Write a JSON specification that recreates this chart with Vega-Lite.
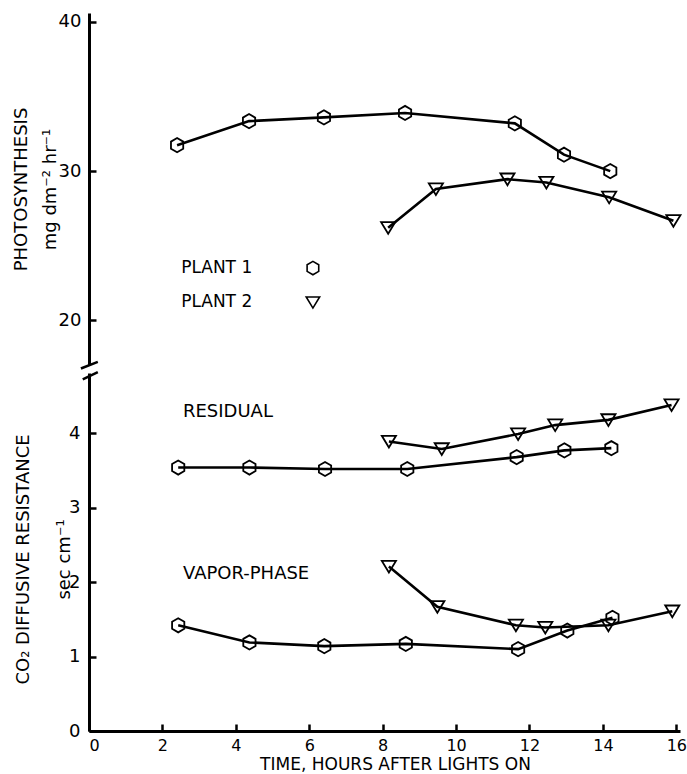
{
  "$schema": "https://vega.github.io/schema/vega-lite/v6.json",
  "padding": {"left": 12, "top": 12, "right": 2, "bottom": 0},
  "spacing": 8,
  "bounds": "flush",
  "background": "white",
  "config": {
    "font": "DejaVu Sans",
    "view": {"stroke": null},
    "axis": {
      "grid": false,
      "domainColor": "black",
      "domainWidth": 3,
      "tickColor": "black",
      "tickWidth": 2.5,
      "tickSize": -7,
      "labelColor": "black",
      "labelFontSize": 18,
      "labelFont": "DejaVu Sans",
      "titleFont": "DejaVu Sans",
      "titleFontSize": 18,
      "titleFontWeight": "normal",
      "titleColor": "black"
    }
  },
  "datasets": {
    "points": [
      {"panel": "photosynthesis", "measure": "Photosynthesis", "plant": "Plant 1", "time": 2.40, "value": 31.74},
      {"panel": "photosynthesis", "measure": "Photosynthesis", "plant": "Plant 1", "time": 4.36, "value": 33.35},
      {"panel": "photosynthesis", "measure": "Photosynthesis", "plant": "Plant 1", "time": 6.40, "value": 33.6},
      {"panel": "photosynthesis", "measure": "Photosynthesis", "plant": "Plant 1", "time": 8.61, "value": 33.9},
      {"panel": "photosynthesis", "measure": "Photosynthesis", "plant": "Plant 1", "time": 11.6, "value": 33.2},
      {"panel": "photosynthesis", "measure": "Photosynthesis", "plant": "Plant 1", "time": 12.94, "value": 31.1},
      {"panel": "photosynthesis", "measure": "Photosynthesis", "plant": "Plant 1", "time": 14.2, "value": 30.0},
      {"panel": "photosynthesis", "measure": "Photosynthesis", "plant": "Plant 2", "time": 8.15, "value": 26.2},
      {"panel": "photosynthesis", "measure": "Photosynthesis", "plant": "Plant 2", "time": 9.45, "value": 28.8},
      {"panel": "photosynthesis", "measure": "Photosynthesis", "plant": "Plant 2", "time": 11.4, "value": 29.46},
      {"panel": "photosynthesis", "measure": "Photosynthesis", "plant": "Plant 2", "time": 12.46, "value": 29.24},
      {"panel": "photosynthesis", "measure": "Photosynthesis", "plant": "Plant 2", "time": 14.17, "value": 28.24},
      {"panel": "photosynthesis", "measure": "Photosynthesis", "plant": "Plant 2", "time": 15.92, "value": 26.67},
      {"panel": "resistance", "measure": "Residual", "plant": "Plant 1", "time": 2.43, "value": 3.54},
      {"panel": "resistance", "measure": "Residual", "plant": "Plant 1", "time": 4.37, "value": 3.54},
      {"panel": "resistance", "measure": "Residual", "plant": "Plant 1", "time": 6.43, "value": 3.52},
      {"panel": "resistance", "measure": "Residual", "plant": "Plant 1", "time": 8.67, "value": 3.52},
      {"panel": "resistance", "measure": "Residual", "plant": "Plant 1", "time": 11.65, "value": 3.68},
      {"panel": "resistance", "measure": "Residual", "plant": "Plant 1", "time": 12.95, "value": 3.77},
      {"panel": "resistance", "measure": "Residual", "plant": "Plant 1", "time": 14.23, "value": 3.80},
      {"panel": "resistance", "measure": "Residual", "plant": "Plant 2", "time": 8.17, "value": 3.89},
      {"panel": "resistance", "measure": "Residual", "plant": "Plant 2", "time": 9.61, "value": 3.79},
      {"panel": "resistance", "measure": "Residual", "plant": "Plant 2", "time": 11.69, "value": 3.99},
      {"panel": "resistance", "measure": "Residual", "plant": "Plant 2", "time": 12.7, "value": 4.11},
      {"panel": "resistance", "measure": "Residual", "plant": "Plant 2", "time": 14.15, "value": 4.18},
      {"panel": "resistance", "measure": "Residual", "plant": "Plant 2", "time": 15.87, "value": 4.38},
      {"panel": "resistance", "measure": "Vapor-phase", "plant": "Plant 1", "time": 2.43, "value": 1.42},
      {"panel": "resistance", "measure": "Vapor-phase", "plant": "Plant 1", "time": 4.37, "value": 1.19},
      {"panel": "resistance", "measure": "Vapor-phase", "plant": "Plant 1", "time": 6.41, "value": 1.14},
      {"panel": "resistance", "measure": "Vapor-phase", "plant": "Plant 1", "time": 8.63, "value": 1.17},
      {"panel": "resistance", "measure": "Vapor-phase", "plant": "Plant 1", "time": 11.69, "value": 1.10},
      {"panel": "resistance", "measure": "Vapor-phase", "plant": "Plant 1", "time": 13.03, "value": 1.35},
      {"panel": "resistance", "measure": "Vapor-phase", "plant": "Plant 1", "time": 14.26, "value": 1.52},
      {"panel": "resistance", "measure": "Vapor-phase", "plant": "Plant 2", "time": 8.17, "value": 2.21},
      {"panel": "resistance", "measure": "Vapor-phase", "plant": "Plant 2", "time": 9.49, "value": 1.67},
      {"panel": "resistance", "measure": "Vapor-phase", "plant": "Plant 2", "time": 11.63, "value": 1.42},
      {"panel": "resistance", "measure": "Vapor-phase", "plant": "Plant 2", "time": 12.43, "value": 1.39},
      {"panel": "resistance", "measure": "Vapor-phase", "plant": "Plant 2", "time": 14.15, "value": 1.42},
      {"panel": "resistance", "measure": "Vapor-phase", "plant": "Plant 2", "time": 15.89, "value": 1.61}
    ],
    "legendRows": [
      {"label": "PLANT 1", "plant": "Plant 1", "time": 2.51, "symtime": 6.1, "value": 23.5},
      {"label": "PLANT 2", "plant": "Plant 2", "time": 2.51, "symtime": 6.1, "value": 21.2}
    ],
    "notes": [
      {"label": "RESIDUAL", "time": 2.56, "value": 4.29},
      {"label": "VAPOR-PHASE", "time": 2.56, "value": 2.115}
    ],
    "breaks": [
      {"time": -0.22, "time2": 0.24, "value": 4.87, "value2": 4.96},
      {"time": -0.17, "time2": 0.24, "value": 4.725, "value2": 4.823}
    ]
  },
  "vconcat": [
    {
      "width": 591,
      "height": 352,
      "layer": [
        {
          "data": {"name": "points"},
          "transform": [{"filter": "datum.panel === 'photosynthesis'"}],
          "mark": {"type": "line", "color": "black", "strokeWidth": 2.6},
          "encoding": {
            "x": {"field": "time", "type": "quantitative", "scale": {"domain": [0, 16.1], "nice": false, "zero": false}, "axis": null},
            "y": {"field": "value", "type": "quantitative", "scale": {"domain": [17, 40.6], "nice": false, "zero": false},
                  "axis": {"values": [20, 30, 40], "format": "d", "title": ["PHOTOSYNTHESIS", "mg dm⁻² hr⁻¹"], "titleX": -63, "titleLineHeight": 29, "titleBaseline": "alphabetic", "labelPadding": 15}},
            "detail": {"field": "plant"}
          }
        },
        {
          "data": {"name": "points"},
          "transform": [{"filter": "datum.panel === 'photosynthesis'"}],
          "mark": {"type": "point", "filled": false, "color": "black", "strokeWidth": 1.8, "size": 200, "opacity": 1},
          "encoding": {
            "x": {"field": "time", "type": "quantitative"},
            "y": {"field": "value", "type": "quantitative"},
            "shape": {"field": "plant", "type": "nominal", "scale": {"domain": ["Plant 1", "Plant 2"], "range": ["M0,-1L0.866,-0.5L0.866,0.5L0,1L-0.866,0.5L-0.866,-0.5Z", "M-1,-0.8L1,-0.8L0,0.85Z"]}, "legend": null}
          }
        },
        {
          "data": {"name": "legendRows"},
          "mark": {"type": "text", "align": "left", "baseline": "middle", "fontSize": 17, "color": "black", "font": "DejaVu Sans"},
          "encoding": {
            "x": {"field": "time", "type": "quantitative"},
            "y": {"field": "value", "type": "quantitative"},
            "text": {"field": "label"}
          }
        },
        {
          "data": {"name": "legendRows"},
          "mark": {"type": "point", "filled": false, "color": "black", "strokeWidth": 1.6, "size": 180, "opacity": 1},
          "encoding": {
            "x": {"field": "symtime", "type": "quantitative"},
            "y": {"field": "value", "type": "quantitative"},
            "shape": {"field": "plant", "type": "nominal", "legend": null}
          }
        }
      ]
    },
    {
      "width": 591,
      "height": 358,
      "layer": [
        {
          "data": {"name": "points"},
          "transform": [{"filter": "datum.panel === 'resistance'"}],
          "mark": {"type": "line", "color": "black", "strokeWidth": 2.6},
          "encoding": {
            "x": {"field": "time", "type": "quantitative", "scale": {"domain": [0, 16.1], "nice": false, "zero": false},
                  "axis": {"values": [0, 2, 4, 6, 8, 10, 12, 14, 16], "format": "d", "title": "TIME, HOURS AFTER LIGHTS ON", "titleX": 306, "titleFontSize": 17, "titlePadding": 3, "labelFontSize": 16, "labelPadding": 13}},
            "y": {"field": "value", "type": "quantitative", "scale": {"domain": [0, 4.81], "nice": false, "zero": false},
                  "axis": {"values": [0, 1, 2, 3, 4], "format": "d", "title": ["CO₂ DIFFUSIVE RESISTANCE", "sec cm⁻¹"], "titleX": -61, "titleY": 186, "titleLineHeight": 41, "titleBaseline": "alphabetic", "labelPadding": 16}},
            "detail": [{"field": "measure"}, {"field": "plant"}]
          }
        },
        {
          "data": {"name": "points"},
          "transform": [{"filter": "datum.panel === 'resistance'"}],
          "mark": {"type": "point", "filled": false, "color": "black", "strokeWidth": 1.8, "size": 200, "opacity": 1},
          "encoding": {
            "x": {"field": "time", "type": "quantitative"},
            "y": {"field": "value", "type": "quantitative"},
            "shape": {"field": "plant", "type": "nominal", "scale": {"domain": ["Plant 1", "Plant 2"], "range": ["M0,-1L0.866,-0.5L0.866,0.5L0,1L-0.866,0.5L-0.866,-0.5Z", "M-1,-0.8L1,-0.8L0,0.85Z"]}, "legend": null}
          }
        },
        {
          "data": {"name": "notes"},
          "mark": {"type": "text", "align": "left", "baseline": "middle", "fontSize": 18, "color": "black", "font": "DejaVu Sans"},
          "encoding": {
            "x": {"field": "time", "type": "quantitative"},
            "y": {"field": "value", "type": "quantitative"},
            "text": {"field": "label"}
          }
        },
        {
          "data": {"name": "breaks"},
          "mark": {"type": "rule", "color": "black", "strokeWidth": 2.5},
          "encoding": {
            "x": {"field": "time", "type": "quantitative"},
            "x2": {"field": "time2"},
            "y": {"field": "value", "type": "quantitative"},
            "y2": {"field": "value2"}
          }
        }
      ]
    }
  ]
}
